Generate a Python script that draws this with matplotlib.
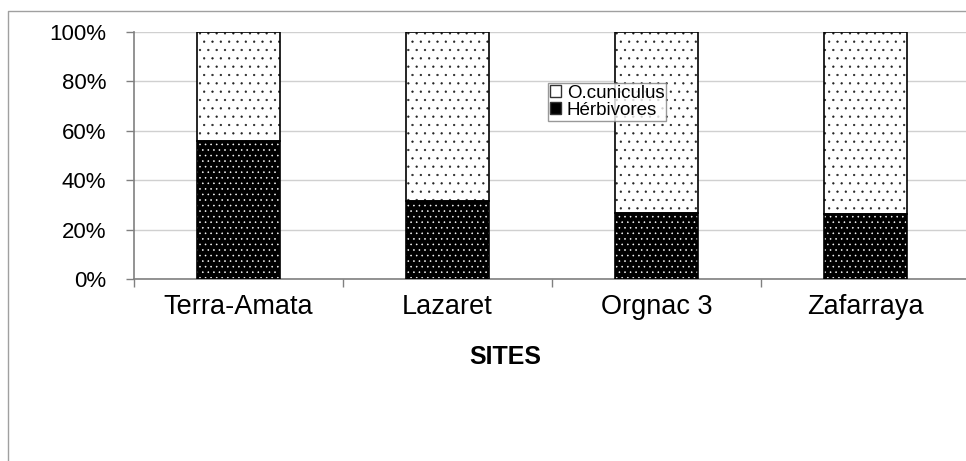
import matplotlib
matplotlib.use("Agg")
import matplotlib.pyplot as plt
from matplotlib.lines import Line2D
from matplotlib.patches import Patch
import numpy as np

plt.rcParams['font.family'] = ['Liberation Sans', 'DejaVu Sans']
plt.rcParams['hatch.linewidth'] = 0.4

sites = ["Terra-Amata", "Lazaret", "Orgnac 3", "Zafarraya"]
herbivores = [56.0, 31.5, 26.7, 26.3]
cuniculus = [100 - h for h in herbivores]
y_ticks = [0, 20, 40, 60, 80, 100]

W, H = 966, 461
fig = plt.figure(figsize=(W / 100, H / 100), dpi=100)

# outer chart frame (top and left edges visible)
fig.add_artist(Line2D([8 / W, 8 / W, 1.0], [0.0, 1 - 11 / H, 1 - 11 / H],
                      transform=fig.transFigure, color='#a0a0a0', lw=1.0))

left, right = 134 / W, 970 / W
bottom, top = 1 - 279 / H, 1 - 32 / H
ax = fig.add_axes([left, bottom, right - left, top - bottom])

x = np.arange(len(sites))
width = 0.40

# lower segment: black with white dots
ax.bar(x, herbivores, width, color='black', edgecolor='white', hatch='...',
       linewidth=0, zorder=3)
ax.bar(x, herbivores, width, fill=False, edgecolor='black', linewidth=1.2, zorder=4)
# upper segment: white with sparse black dots
ax.bar(x, cuniculus, width, bottom=herbivores, color='white', edgecolor='#222222',
       hatch='..', linewidth=0, zorder=3)
ax.bar(x, cuniculus, width, bottom=herbivores, fill=False, edgecolor='black',
       linewidth=1.2, zorder=4)

ax.set_xlim(-0.5, len(sites) - 0.5)
ax.set_ylim(0, 100)
ax.set_yticks(y_ticks)
ax.set_yticklabels([f"{v}%" for v in y_ticks], fontsize=16)
ax.yaxis.grid(True, color='#d0d0d0', lw=1.0, zorder=0)
ax.set_axisbelow(True)

ax.set_xticks(x)
ax.set_xticklabels(sites, fontsize=19.5)
ax.set_xticks(np.arange(len(sites) + 1) - 0.5, minor=True)
ax.tick_params(axis='x', which='major', length=0, pad=11)
ax.tick_params(axis='x', which='minor', length=6, color='#808080', width=1.0)
ax.tick_params(axis='y', length=6, color='#808080', width=1.0, pad=14)

for s in ['top', 'right']:
    ax.spines[s].set_visible(False)
for s in ['left', 'bottom']:
    ax.spines[s].set_color('#808080')
    ax.spines[s].set_linewidth(1.2)

fig.text(505 / W, 1 - 357 / H, "SITES", ha='center', va='center',
         fontsize=18, fontweight='bold')

handles = [Patch(facecolor='white', edgecolor='#333333', hatch='.', label='O.cuniculus'),
           Patch(facecolor='black', edgecolor='#333333', label='Hérbivores')]
leg = fig.legend(handles=handles, loc='upper left',
                 bbox_to_anchor=(548 / W, 1 - 83 / H),
                 fontsize=13.5, frameon=True, fancybox=False, handlelength=0.6,
                 handleheight=0.6, handletextpad=0.3, borderpad=0.1,
                 labelspacing=0.0, borderaxespad=0.0)
leg.get_frame().set_edgecolor('#808080')
leg.get_frame().set_linewidth(1.0)

fig.savefig("out.png", dpi=100)
